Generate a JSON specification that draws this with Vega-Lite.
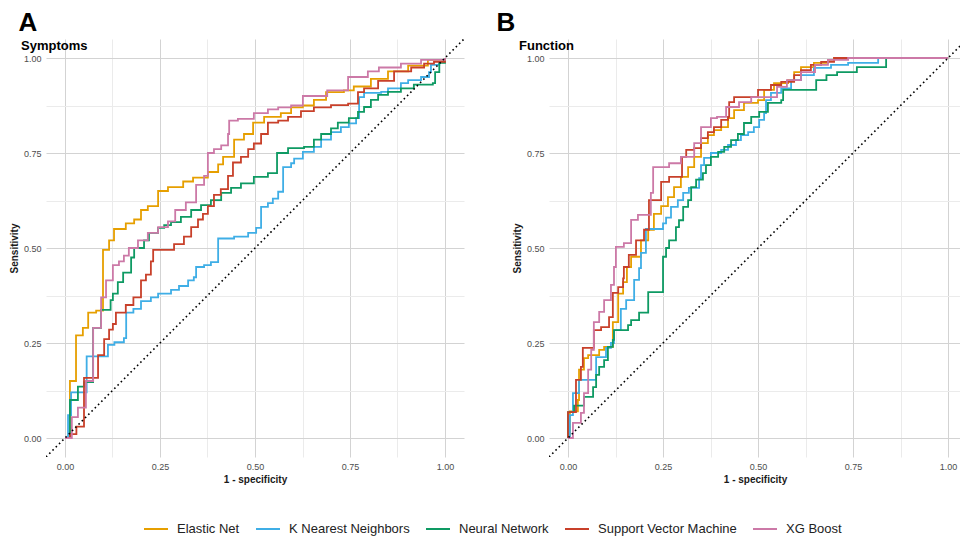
{
  "$schema": "https://vega.github.io/schema/vega-lite/v6.json",
  "padding": {"left": 9, "top": 10, "right": 0, "bottom": 0},
  "background": "white",
  "spacing": 32,
  "datasets": {
    "rocA": [
      {"m":"Elastic Net","x":0,"y":0},{"m":"Elastic Net","x":0.013,"y":0.15},{"m":"Elastic Net","x":0.029,"y":0.27},{"m":"Elastic Net","x":0.047,"y":0.29},{"m":"Elastic Net","x":0.061,"y":0.33},{"m":"Elastic Net","x":0.082,"y":0.335},{"m":"Elastic Net","x":0.1,"y":0.495},{"m":"Elastic Net","x":0.116,"y":0.52},{"m":"Elastic Net","x":0.129,"y":0.55},{"m":"Elastic Net","x":0.16,"y":0.565},{"m":"Elastic Net","x":0.182,"y":0.575},{"m":"Elastic Net","x":0.2,"y":0.6},{"m":"Elastic Net","x":0.218,"y":0.61},{"m":"Elastic Net","x":0.245,"y":0.65},{"m":"Elastic Net","x":0.271,"y":0.66},{"m":"Elastic Net","x":0.311,"y":0.675},{"m":"Elastic Net","x":0.337,"y":0.685},{"m":"Elastic Net","x":0.376,"y":0.7},{"m":"Elastic Net","x":0.403,"y":0.72},{"m":"Elastic Net","x":0.416,"y":0.74},{"m":"Elastic Net","x":0.445,"y":0.785},{"m":"Elastic Net","x":0.471,"y":0.8},{"m":"Elastic Net","x":0.495,"y":0.83},{"m":"Elastic Net","x":0.524,"y":0.845},{"m":"Elastic Net","x":0.568,"y":0.855},{"m":"Elastic Net","x":0.595,"y":0.87},{"m":"Elastic Net","x":0.626,"y":0.875},{"m":"Elastic Net","x":0.655,"y":0.89},{"m":"Elastic Net","x":0.687,"y":0.91},{"m":"Elastic Net","x":0.734,"y":0.915},{"m":"Elastic Net","x":0.76,"y":0.925},{"m":"Elastic Net","x":0.805,"y":0.945},{"m":"Elastic Net","x":0.85,"y":0.965},{"m":"Elastic Net","x":0.903,"y":0.98},{"m":"Elastic Net","x":0.955,"y":0.995},{"m":"Elastic Net","x":1,"y":1},
      {"m":"K Nearest Neighbors","x":0,"y":0},{"m":"K Nearest Neighbors","x":0.008,"y":0.06},{"m":"K Nearest Neighbors","x":0.016,"y":0.12},{"m":"K Nearest Neighbors","x":0.057,"y":0.215},{"m":"K Nearest Neighbors","x":0.113,"y":0.245},{"m":"K Nearest Neighbors","x":0.13,"y":0.252},{"m":"K Nearest Neighbors","x":0.155,"y":0.263},{"m":"K Nearest Neighbors","x":0.161,"y":0.33},{"m":"K Nearest Neighbors","x":0.18,"y":0.34},{"m":"K Nearest Neighbors","x":0.2,"y":0.36},{"m":"K Nearest Neighbors","x":0.226,"y":0.37},{"m":"K Nearest Neighbors","x":0.245,"y":0.38},{"m":"K Nearest Neighbors","x":0.279,"y":0.39},{"m":"K Nearest Neighbors","x":0.3,"y":0.4},{"m":"K Nearest Neighbors","x":0.324,"y":0.415},{"m":"K Nearest Neighbors","x":0.339,"y":0.423},{"m":"K Nearest Neighbors","x":0.345,"y":0.45},{"m":"K Nearest Neighbors","x":0.366,"y":0.455},{"m":"K Nearest Neighbors","x":0.384,"y":0.463},{"m":"K Nearest Neighbors","x":0.403,"y":0.525},{"m":"K Nearest Neighbors","x":0.445,"y":0.53},{"m":"K Nearest Neighbors","x":0.482,"y":0.54},{"m":"K Nearest Neighbors","x":0.503,"y":0.553},{"m":"K Nearest Neighbors","x":0.516,"y":0.608},{"m":"K Nearest Neighbors","x":0.534,"y":0.618},{"m":"K Nearest Neighbors","x":0.547,"y":0.63},{"m":"K Nearest Neighbors","x":0.561,"y":0.648},{"m":"K Nearest Neighbors","x":0.574,"y":0.713},{"m":"K Nearest Neighbors","x":0.595,"y":0.723},{"m":"K Nearest Neighbors","x":0.603,"y":0.735},{"m":"K Nearest Neighbors","x":0.626,"y":0.753},{"m":"K Nearest Neighbors","x":0.655,"y":0.766},{"m":"K Nearest Neighbors","x":0.674,"y":0.785},{"m":"K Nearest Neighbors","x":0.7,"y":0.805},{"m":"K Nearest Neighbors","x":0.726,"y":0.818},{"m":"K Nearest Neighbors","x":0.747,"y":0.828},{"m":"K Nearest Neighbors","x":0.766,"y":0.842},{"m":"K Nearest Neighbors","x":0.774,"y":0.897},{"m":"K Nearest Neighbors","x":0.787,"y":0.908},{"m":"K Nearest Neighbors","x":0.832,"y":0.911},{"m":"K Nearest Neighbors","x":0.85,"y":0.92},{"m":"K Nearest Neighbors","x":0.884,"y":0.934},{"m":"K Nearest Neighbors","x":0.903,"y":0.942},{"m":"K Nearest Neighbors","x":0.937,"y":0.95},{"m":"K Nearest Neighbors","x":0.958,"y":0.963},{"m":"K Nearest Neighbors","x":0.963,"y":0.982},{"m":"K Nearest Neighbors","x":0.985,"y":0.99},{"m":"K Nearest Neighbors","x":1,"y":1},
      {"m":"Neural Network","x":0,"y":0},{"m":"Neural Network","x":0.013,"y":0.1},{"m":"Neural Network","x":0.034,"y":0.135},{"m":"Neural Network","x":0.05,"y":0.147},{"m":"Neural Network","x":0.074,"y":0.29},{"m":"Neural Network","x":0.095,"y":0.337},{"m":"Neural Network","x":0.12,"y":0.363},{"m":"Neural Network","x":0.126,"y":0.38},{"m":"Neural Network","x":0.139,"y":0.41},{"m":"Neural Network","x":0.153,"y":0.435},{"m":"Neural Network","x":0.174,"y":0.475},{"m":"Neural Network","x":0.182,"y":0.5},{"m":"Neural Network","x":0.208,"y":0.52},{"m":"Neural Network","x":0.221,"y":0.54},{"m":"Neural Network","x":0.245,"y":0.553},{"m":"Neural Network","x":0.261,"y":0.56},{"m":"Neural Network","x":0.279,"y":0.568},{"m":"Neural Network","x":0.305,"y":0.582},{"m":"Neural Network","x":0.332,"y":0.6},{"m":"Neural Network","x":0.358,"y":0.613},{"m":"Neural Network","x":0.384,"y":0.626},{"m":"Neural Network","x":0.411,"y":0.645},{"m":"Neural Network","x":0.437,"y":0.658},{"m":"Neural Network","x":0.463,"y":0.67},{"m":"Neural Network","x":0.497,"y":0.687},{"m":"Neural Network","x":0.534,"y":0.697},{"m":"Neural Network","x":0.558,"y":0.75},{"m":"Neural Network","x":0.587,"y":0.763},{"m":"Neural Network","x":0.629,"y":0.766},{"m":"Neural Network","x":0.655,"y":0.785},{"m":"Neural Network","x":0.674,"y":0.8},{"m":"Neural Network","x":0.7,"y":0.815},{"m":"Neural Network","x":0.718,"y":0.83},{"m":"Neural Network","x":0.747,"y":0.842},{"m":"Neural Network","x":0.771,"y":0.858},{"m":"Neural Network","x":0.787,"y":0.871},{"m":"Neural Network","x":0.805,"y":0.89},{"m":"Neural Network","x":0.824,"y":0.903},{"m":"Neural Network","x":0.85,"y":0.911},{"m":"Neural Network","x":0.884,"y":0.92},{"m":"Neural Network","x":0.918,"y":0.93},{"m":"Neural Network","x":0.968,"y":0.934},{"m":"Neural Network","x":0.974,"y":0.963},{"m":"Neural Network","x":0.985,"y":0.987},{"m":"Neural Network","x":1,"y":1},
      {"m":"Support Vector Machine","x":0,"y":0},{"m":"Support Vector Machine","x":0.013,"y":0.01},{"m":"Support Vector Machine","x":0.03,"y":0.03},{"m":"Support Vector Machine","x":0.05,"y":0.158},{"m":"Support Vector Machine","x":0.087,"y":0.218},{"m":"Support Vector Machine","x":0.103,"y":0.26},{"m":"Support Vector Machine","x":0.116,"y":0.285},{"m":"Support Vector Machine","x":0.126,"y":0.3},{"m":"Support Vector Machine","x":0.134,"y":0.33},{"m":"Support Vector Machine","x":0.16,"y":0.35},{"m":"Support Vector Machine","x":0.18,"y":0.37},{"m":"Support Vector Machine","x":0.2,"y":0.415},{"m":"Support Vector Machine","x":0.213,"y":0.43},{"m":"Support Vector Machine","x":0.226,"y":0.465},{"m":"Support Vector Machine","x":0.232,"y":0.495},{"m":"Support Vector Machine","x":0.287,"y":0.51},{"m":"Support Vector Machine","x":0.313,"y":0.53},{"m":"Support Vector Machine","x":0.332,"y":0.555},{"m":"Support Vector Machine","x":0.35,"y":0.575},{"m":"Support Vector Machine","x":0.363,"y":0.59},{"m":"Support Vector Machine","x":0.376,"y":0.61},{"m":"Support Vector Machine","x":0.392,"y":0.64},{"m":"Support Vector Machine","x":0.41,"y":0.655},{"m":"Support Vector Machine","x":0.429,"y":0.69},{"m":"Support Vector Machine","x":0.442,"y":0.725},{"m":"Support Vector Machine","x":0.463,"y":0.74},{"m":"Support Vector Machine","x":0.482,"y":0.76},{"m":"Support Vector Machine","x":0.497,"y":0.775},{"m":"Support Vector Machine","x":0.516,"y":0.8},{"m":"Support Vector Machine","x":0.534,"y":0.83},{"m":"Support Vector Machine","x":0.561,"y":0.835},{"m":"Support Vector Machine","x":0.587,"y":0.845},{"m":"Support Vector Machine","x":0.621,"y":0.86},{"m":"Support Vector Machine","x":0.655,"y":0.87},{"m":"Support Vector Machine","x":0.7,"y":0.876},{"m":"Support Vector Machine","x":0.745,"y":0.88},{"m":"Support Vector Machine","x":0.771,"y":0.91},{"m":"Support Vector Machine","x":0.787,"y":0.92},{"m":"Support Vector Machine","x":0.824,"y":0.94},{"m":"Support Vector Machine","x":0.866,"y":0.965},{"m":"Support Vector Machine","x":0.911,"y":0.975},{"m":"Support Vector Machine","x":0.945,"y":0.985},{"m":"Support Vector Machine","x":0.971,"y":0.99},{"m":"Support Vector Machine","x":1,"y":1},
      {"m":"XG Boost","x":0,"y":0},{"m":"XG Boost","x":0.018,"y":0.055},{"m":"XG Boost","x":0.034,"y":0.08},{"m":"XG Boost","x":0.055,"y":0.15},{"m":"XG Boost","x":0.074,"y":0.29},{"m":"XG Boost","x":0.095,"y":0.37},{"m":"XG Boost","x":0.108,"y":0.415},{"m":"XG Boost","x":0.126,"y":0.455},{"m":"XG Boost","x":0.142,"y":0.465},{"m":"XG Boost","x":0.155,"y":0.48},{"m":"XG Boost","x":0.168,"y":0.5},{"m":"XG Boost","x":0.192,"y":0.52},{"m":"XG Boost","x":0.218,"y":0.54},{"m":"XG Boost","x":0.245,"y":0.555},{"m":"XG Boost","x":0.271,"y":0.57},{"m":"XG Boost","x":0.29,"y":0.6},{"m":"XG Boost","x":0.318,"y":0.62},{"m":"XG Boost","x":0.345,"y":0.666},{"m":"XG Boost","x":0.366,"y":0.69},{"m":"XG Boost","x":0.376,"y":0.75},{"m":"XG Boost","x":0.392,"y":0.76},{"m":"XG Boost","x":0.411,"y":0.77},{"m":"XG Boost","x":0.429,"y":0.8},{"m":"XG Boost","x":0.432,"y":0.835},{"m":"XG Boost","x":0.455,"y":0.84},{"m":"XG Boost","x":0.497,"y":0.855},{"m":"XG Boost","x":0.534,"y":0.865},{"m":"XG Boost","x":0.561,"y":0.87},{"m":"XG Boost","x":0.595,"y":0.875},{"m":"XG Boost","x":0.626,"y":0.9},{"m":"XG Boost","x":0.69,"y":0.915},{"m":"XG Boost","x":0.745,"y":0.95},{"m":"XG Boost","x":0.797,"y":0.965},{"m":"XG Boost","x":0.826,"y":0.975},{"m":"XG Boost","x":0.884,"y":0.985},{"m":"XG Boost","x":0.937,"y":0.995},{"m":"XG Boost","x":1,"y":1}
    ],
    "rocB": [
      {"m":"Elastic Net","x":0,"y":0},{"m":"Elastic Net","x":0.005,"y":0.07},{"m":"Elastic Net","x":0.026,"y":0.1},{"m":"Elastic Net","x":0.029,"y":0.18},{"m":"Elastic Net","x":0.042,"y":0.21},{"m":"Elastic Net","x":0.053,"y":0.218},{"m":"Elastic Net","x":0.082,"y":0.232},{"m":"Elastic Net","x":0.095,"y":0.24},{"m":"Elastic Net","x":0.118,"y":0.305},{"m":"Elastic Net","x":0.132,"y":0.38},{"m":"Elastic Net","x":0.145,"y":0.41},{"m":"Elastic Net","x":0.155,"y":0.45},{"m":"Elastic Net","x":0.166,"y":0.477},{"m":"Elastic Net","x":0.192,"y":0.52},{"m":"Elastic Net","x":0.211,"y":0.548},{"m":"Elastic Net","x":0.226,"y":0.59},{"m":"Elastic Net","x":0.245,"y":0.61},{"m":"Elastic Net","x":0.263,"y":0.634},{"m":"Elastic Net","x":0.279,"y":0.66},{"m":"Elastic Net","x":0.297,"y":0.687},{"m":"Elastic Net","x":0.316,"y":0.713},{"m":"Elastic Net","x":0.332,"y":0.74},{"m":"Elastic Net","x":0.35,"y":0.776},{"m":"Elastic Net","x":0.368,"y":0.797},{"m":"Elastic Net","x":0.384,"y":0.81},{"m":"Elastic Net","x":0.403,"y":0.818},{"m":"Elastic Net","x":0.421,"y":0.842},{"m":"Elastic Net","x":0.437,"y":0.863},{"m":"Elastic Net","x":0.463,"y":0.882},{"m":"Elastic Net","x":0.5,"y":0.889},{"m":"Elastic Net","x":0.516,"y":0.916},{"m":"Elastic Net","x":0.542,"y":0.934},{"m":"Elastic Net","x":0.579,"y":0.942},{"m":"Elastic Net","x":0.595,"y":0.963},{"m":"Elastic Net","x":0.613,"y":0.976},{"m":"Elastic Net","x":0.647,"y":0.987},{"m":"Elastic Net","x":0.684,"y":0.995},{"m":"Elastic Net","x":0.7,"y":1},{"m":"Elastic Net","x":1,"y":1},
      {"m":"K Nearest Neighbors","x":0,"y":0},{"m":"K Nearest Neighbors","x":0.005,"y":0.06},{"m":"K Nearest Neighbors","x":0.013,"y":0.118},{"m":"K Nearest Neighbors","x":0.029,"y":0.153},{"m":"K Nearest Neighbors","x":0.074,"y":0.213},{"m":"K Nearest Neighbors","x":0.1,"y":0.237},{"m":"K Nearest Neighbors","x":0.113,"y":0.25},{"m":"K Nearest Neighbors","x":0.121,"y":0.284},{"m":"K Nearest Neighbors","x":0.139,"y":0.34},{"m":"K Nearest Neighbors","x":0.153,"y":0.363},{"m":"K Nearest Neighbors","x":0.174,"y":0.416},{"m":"K Nearest Neighbors","x":0.187,"y":0.447},{"m":"K Nearest Neighbors","x":0.192,"y":0.487},{"m":"K Nearest Neighbors","x":0.205,"y":0.55},{"m":"K Nearest Neighbors","x":0.25,"y":0.565},{"m":"K Nearest Neighbors","x":0.258,"y":0.58},{"m":"K Nearest Neighbors","x":0.271,"y":0.608},{"m":"K Nearest Neighbors","x":0.289,"y":0.626},{"m":"K Nearest Neighbors","x":0.303,"y":0.645},{"m":"K Nearest Neighbors","x":0.318,"y":0.658},{"m":"K Nearest Neighbors","x":0.345,"y":0.684},{"m":"K Nearest Neighbors","x":0.35,"y":0.718},{"m":"K Nearest Neighbors","x":0.358,"y":0.737},{"m":"K Nearest Neighbors","x":0.376,"y":0.75},{"m":"K Nearest Neighbors","x":0.403,"y":0.758},{"m":"K Nearest Neighbors","x":0.421,"y":0.771},{"m":"K Nearest Neighbors","x":0.442,"y":0.784},{"m":"K Nearest Neighbors","x":0.455,"y":0.797},{"m":"K Nearest Neighbors","x":0.474,"y":0.805},{"m":"K Nearest Neighbors","x":0.489,"y":0.818},{"m":"K Nearest Neighbors","x":0.503,"y":0.837},{"m":"K Nearest Neighbors","x":0.516,"y":0.855},{"m":"K Nearest Neighbors","x":0.521,"y":0.889},{"m":"K Nearest Neighbors","x":0.534,"y":0.908},{"m":"K Nearest Neighbors","x":0.561,"y":0.92},{"m":"K Nearest Neighbors","x":0.587,"y":0.942},{"m":"K Nearest Neighbors","x":0.613,"y":0.955},{"m":"K Nearest Neighbors","x":0.647,"y":0.974},{"m":"K Nearest Neighbors","x":0.692,"y":0.982},{"m":"K Nearest Neighbors","x":0.737,"y":0.987},{"m":"K Nearest Neighbors","x":0.816,"y":1},{"m":"K Nearest Neighbors","x":1,"y":1},
      {"m":"Neural Network","x":0,"y":0},{"m":"Neural Network","x":0,"y":0.068},{"m":"Neural Network","x":0.016,"y":0.085},{"m":"Neural Network","x":0.042,"y":0.108},{"m":"Neural Network","x":0.066,"y":0.134},{"m":"Neural Network","x":0.074,"y":0.166},{"m":"Neural Network","x":0.082,"y":0.187},{"m":"Neural Network","x":0.095,"y":0.205},{"m":"Neural Network","x":0.105,"y":0.24},{"m":"Neural Network","x":0.118,"y":0.258},{"m":"Neural Network","x":0.121,"y":0.284},{"m":"Neural Network","x":0.158,"y":0.297},{"m":"Neural Network","x":0.166,"y":0.31},{"m":"Neural Network","x":0.187,"y":0.33},{"m":"Neural Network","x":0.211,"y":0.384},{"m":"Neural Network","x":0.25,"y":0.477},{"m":"Neural Network","x":0.258,"y":0.5},{"m":"Neural Network","x":0.266,"y":0.52},{"m":"Neural Network","x":0.284,"y":0.555},{"m":"Neural Network","x":0.292,"y":0.573},{"m":"Neural Network","x":0.303,"y":0.608},{"m":"Neural Network","x":0.316,"y":0.626},{"m":"Neural Network","x":0.324,"y":0.66},{"m":"Neural Network","x":0.337,"y":0.68},{"m":"Neural Network","x":0.355,"y":0.697},{"m":"Neural Network","x":0.363,"y":0.718},{"m":"Neural Network","x":0.376,"y":0.74},{"m":"Neural Network","x":0.395,"y":0.753},{"m":"Neural Network","x":0.411,"y":0.766},{"m":"Neural Network","x":0.429,"y":0.784},{"m":"Neural Network","x":0.447,"y":0.8},{"m":"Neural Network","x":0.463,"y":0.829},{"m":"Neural Network","x":0.482,"y":0.845},{"m":"Neural Network","x":0.503,"y":0.858},{"m":"Neural Network","x":0.526,"y":0.882},{"m":"Neural Network","x":0.561,"y":0.889},{"m":"Neural Network","x":0.566,"y":0.916},{"m":"Neural Network","x":0.653,"y":0.942},{"m":"Neural Network","x":0.68,"y":0.955},{"m":"Neural Network","x":0.708,"y":0.963},{"m":"Neural Network","x":0.76,"y":0.976},{"m":"Neural Network","x":0.837,"y":1},{"m":"Neural Network","x":1,"y":1},
      {"m":"Support Vector Machine","x":0,"y":0},{"m":"Support Vector Machine","x":0,"y":0.068},{"m":"Support Vector Machine","x":0.021,"y":0.153},{"m":"Support Vector Machine","x":0.034,"y":0.187},{"m":"Support Vector Machine","x":0.039,"y":0.237},{"m":"Support Vector Machine","x":0.068,"y":0.284},{"m":"Support Vector Machine","x":0.087,"y":0.292},{"m":"Support Vector Machine","x":0.108,"y":0.318},{"m":"Support Vector Machine","x":0.118,"y":0.382},{"m":"Support Vector Machine","x":0.132,"y":0.397},{"m":"Support Vector Machine","x":0.145,"y":0.42},{"m":"Support Vector Machine","x":0.147,"y":0.45},{"m":"Support Vector Machine","x":0.16,"y":0.482},{"m":"Support Vector Machine","x":0.179,"y":0.52},{"m":"Support Vector Machine","x":0.2,"y":0.548},{"m":"Support Vector Machine","x":0.213,"y":0.626},{"m":"Support Vector Machine","x":0.245,"y":0.674},{"m":"Support Vector Machine","x":0.266,"y":0.687},{"m":"Support Vector Machine","x":0.3,"y":0.74},{"m":"Support Vector Machine","x":0.311,"y":0.758},{"m":"Support Vector Machine","x":0.332,"y":0.763},{"m":"Support Vector Machine","x":0.35,"y":0.789},{"m":"Support Vector Machine","x":0.368,"y":0.805},{"m":"Support Vector Machine","x":0.384,"y":0.818},{"m":"Support Vector Machine","x":0.403,"y":0.837},{"m":"Support Vector Machine","x":0.421,"y":0.845},{"m":"Support Vector Machine","x":0.424,"y":0.884},{"m":"Support Vector Machine","x":0.437,"y":0.897},{"m":"Support Vector Machine","x":0.5,"y":0.916},{"m":"Support Vector Machine","x":0.534,"y":0.929},{"m":"Support Vector Machine","x":0.561,"y":0.937},{"m":"Support Vector Machine","x":0.595,"y":0.955},{"m":"Support Vector Machine","x":0.613,"y":0.968},{"m":"Support Vector Machine","x":0.639,"y":0.982},{"m":"Support Vector Machine","x":0.666,"y":0.99},{"m":"Support Vector Machine","x":0.7,"y":1},{"m":"Support Vector Machine","x":1,"y":1},
      {"m":"XG Boost","x":0,"y":0},{"m":"XG Boost","x":0.013,"y":0.04},{"m":"XG Boost","x":0.034,"y":0.066},{"m":"XG Boost","x":0.042,"y":0.118},{"m":"XG Boost","x":0.053,"y":0.18},{"m":"XG Boost","x":0.061,"y":0.232},{"m":"XG Boost","x":0.068,"y":0.305},{"m":"XG Boost","x":0.082,"y":0.332},{"m":"XG Boost","x":0.095,"y":0.363},{"m":"XG Boost","x":0.113,"y":0.403},{"m":"XG Boost","x":0.121,"y":0.45},{"m":"XG Boost","x":0.126,"y":0.503},{"m":"XG Boost","x":0.147,"y":0.513},{"m":"XG Boost","x":0.166,"y":0.574},{"m":"XG Boost","x":0.184,"y":0.587},{"m":"XG Boost","x":0.218,"y":0.645},{"m":"XG Boost","x":0.224,"y":0.713},{"m":"XG Boost","x":0.266,"y":0.723},{"m":"XG Boost","x":0.297,"y":0.74},{"m":"XG Boost","x":0.332,"y":0.776},{"m":"XG Boost","x":0.35,"y":0.818},{"m":"XG Boost","x":0.376,"y":0.842},{"m":"XG Boost","x":0.392,"y":0.845},{"m":"XG Boost","x":0.416,"y":0.871},{"m":"XG Boost","x":0.45,"y":0.884},{"m":"XG Boost","x":0.482,"y":0.897},{"m":"XG Boost","x":0.55,"y":0.924},{"m":"XG Boost","x":0.576,"y":0.942},{"m":"XG Boost","x":0.613,"y":0.963},{"m":"XG Boost","x":0.65,"y":0.982},{"m":"XG Boost","x":0.684,"y":0.995},{"m":"XG Boost","x":0.737,"y":1},{"m":"XG Boost","x":1,"y":1}
    ],
    "diag": [{"x": -0.05, "y": -0.05}, {"x": 1.05, "y": 1.05}]
  },
  "hconcat": [
    {
      "title": {"text": "A", "anchor": "start", "frame": "bounds", "dx": 9, "offset": 3, "fontSize": 26, "fontWeight": "bold", "color": "#000000", "font": "Liberation Sans"},
      "vconcat": [
        {
          "width": 418, "height": 418,
          "title": {"text": "Symptoms", "anchor": "start", "frame": "group", "dx": -25, "offset": -14, "fontSize": 13, "fontWeight": "bold", "color": "#000000", "font": "Liberation Sans"},
          "layer": [
            {
              "data": {"name": "rocA"},
              "mark": {"type": "line", "interpolate": "step-after", "strokeWidth": 1.8},
              "encoding": {
                "x": {"field": "x", "type": "quantitative", "scale": {"domain": [-0.05, 1.05], "nice": false, "zero": false},
                  "axis": {"title": "1 - specificity", "values": [0, 0.125, 0.25, 0.375, 0.5, 0.625, 0.75, 0.875, 1], "labelOverlap": false,
                    "labelExpr": "abs(datum.value*4 - round(datum.value*4)) < 0.001 ? format(datum.value, '.2f') : ''",
                    "gridColor": {"condition": {"test": "abs(datum.value*4 - round(datum.value*4)) < 0.001", "value": "#d3d3d3"}, "value": "#ebebeb"}}},
                "y": {"field": "y", "type": "quantitative", "scale": {"domain": [-0.05, 1.05], "nice": false, "zero": false},
                  "axis": {"title": "Sensitivity", "values": [0, 0.125, 0.25, 0.375, 0.5, 0.625, 0.75, 0.875, 1], "labelOverlap": false,
                    "labelExpr": "abs(datum.value*4 - round(datum.value*4)) < 0.001 ? format(datum.value, '.2f') : ''",
                    "gridColor": {"condition": {"test": "abs(datum.value*4 - round(datum.value*4)) < 0.001", "value": "#d3d3d3"}, "value": "#ebebeb"}}},
                "color": {"field": "m", "type": "nominal",
                  "scale": {"domain": ["Elastic Net", "K Nearest Neighbors", "Neural Network", "Support Vector Machine", "XG Boost"], "range": ["#E69F00", "#3FAEE6", "#0E9A63", "#C8402A", "#CC79A7"]},
                  "legend": {"orient": "none", "legendX": 97, "legendY": 477, "direction": "horizontal", "title": null, "symbolType": "stroke", "symbolStrokeWidth": 2, "symbolSize": 576, "labelFontSize": 13, "labelFont": "Liberation Sans", "labelColor": "#222222", "columnPadding": 12, "labelOffset": 8}},
                "order": {"value": null}
              }
            },
            {
              "data": {"name": "diag"},
              "mark": {"type": "line", "color": "#000000", "strokeWidth": 1.6, "strokeDash": [1.6, 3], "clip": true},
              "encoding": {
                "x": {"field": "x", "type": "quantitative"},
                "y": {"field": "y", "type": "quantitative"}
              }
            }
          ]
        }
      ]
    },
    {
      "title": {"text": "B", "anchor": "start", "frame": "bounds", "dx": -16, "offset": 3, "fontSize": 26, "fontWeight": "bold", "color": "#000000", "font": "Liberation Sans"},
      "vconcat": [
        {
          "width": 412, "height": 418,
          "title": {"text": "Function", "anchor": "start", "frame": "group", "dx": -30, "offset": -14, "fontSize": 13, "fontWeight": "bold", "color": "#000000", "font": "Liberation Sans"},
          "layer": [
            {
              "data": {"name": "rocB"},
              "mark": {"type": "line", "interpolate": "step-after", "strokeWidth": 1.8},
              "encoding": {
                "x": {"field": "x", "type": "quantitative", "scale": {"domain": [-0.05, 1.034], "nice": false, "zero": false},
                  "axis": {"title": "1 - specificity", "values": [0, 0.125, 0.25, 0.375, 0.5, 0.625, 0.75, 0.875, 1], "labelOverlap": false,
                    "labelExpr": "abs(datum.value*4 - round(datum.value*4)) < 0.001 ? format(datum.value, '.2f') : ''",
                    "gridColor": {"condition": {"test": "abs(datum.value*4 - round(datum.value*4)) < 0.001", "value": "#d3d3d3"}, "value": "#ebebeb"}}},
                "y": {"field": "y", "type": "quantitative", "scale": {"domain": [-0.05, 1.05], "nice": false, "zero": false},
                  "axis": {"title": "Sensitivity", "values": [0, 0.125, 0.25, 0.375, 0.5, 0.625, 0.75, 0.875, 1], "labelOverlap": false,
                    "labelExpr": "abs(datum.value*4 - round(datum.value*4)) < 0.001 ? format(datum.value, '.2f') : ''",
                    "gridColor": {"condition": {"test": "abs(datum.value*4 - round(datum.value*4)) < 0.001", "value": "#d3d3d3"}, "value": "#ebebeb"}}},
                "color": {"field": "m", "type": "nominal"},
                "order": {"value": null}
              }
            },
            {
              "data": {"name": "diag"},
              "mark": {"type": "line", "color": "#000000", "strokeWidth": 1.6, "strokeDash": [1.6, 3], "clip": true},
              "encoding": {
                "x": {"field": "x", "type": "quantitative"},
                "y": {"field": "y", "type": "quantitative"}
              }
            }
          ]
        }
      ]
    }
  ],
  "config": {
    "font": "Liberation Sans",
    "view": {"stroke": null},
    "axis": {
      "domain": false, "ticks": false,
      "gridWidth": 1,
      "labelFont": "Liberation Sans", "labelFontSize": 9, "labelColor": "#4d4d4d", "labelPadding": 5,
      "titleFont": "Liberation Sans", "titleFontSize": 10, "titleFontWeight": "bold", "titleColor": "#1a1a1a"
    },
    "axisX": {"titlePadding": 3},
    "axisY": {"titlePadding": 4}
  }
}
